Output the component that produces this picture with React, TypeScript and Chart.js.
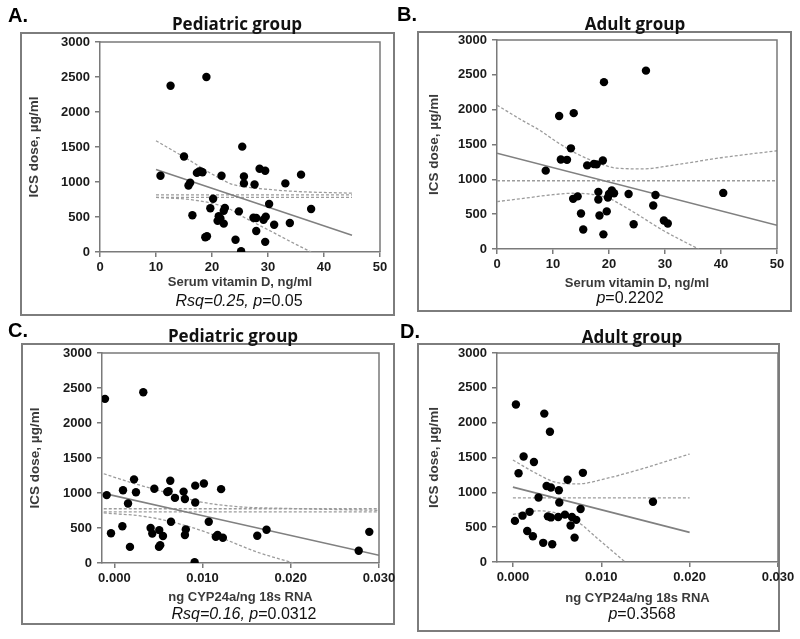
import React, { useEffect, useRef } from "react";
import { Chart, registerables } from "chart.js";
Chart.register(...registerables);

// ---------- shared ticks ----------
const DOSE_TICKS = [0, 500, 1000, 1500, 2000, 2500, 3000];
const VITD_TICKS = [0, 10, 20, 30, 40, 50];
const CYP_TICKS = [0, 0.01, 0.02, 0.03];

// ---------- Panel A: pediatric, vitamin D ----------
const A_X = [10.8, 12.6, 19.0, 15.0, 15.8, 16.1, 16.5, 17.3, 17.7, 18.0, 18.3, 21.7, 20.2, 19.7, 18.8, 19.1, 21.2, 21.5, 21.0, 22.1, 22.3, 22.1, 24.2, 24.8, 25.4, 25.7, 25.7, 25.2, 27.6, 27.4, 27.9, 27.9, 28.5, 29.5, 29.2, 29.6, 29.5, 30.2, 31.1, 33.1, 33.9, 35.9, 37.7];
const A_Y = [1090, 2375, 2500, 1365, 950, 990, 525, 1130, 1150, 1150, 1140, 1090, 760, 625, 210, 225, 510, 480, 445, 590, 630, 405, 175, 580, 1505, 1080, 980, 10, 965, 490, 485, 300, 1190, 1160, 460, 505, 145, 685, 390, 980, 415, 1105, 615];
const A_FIT_X = [10, 45];
const A_FIT_Y = [1180, 240];
const A_MEAN_X = [10, 45];
const A_MEAN_HI = [815, 815];
const A_MEAN_LO = [780, 780];
const A_CIU_X = [10, 13, 16, 19, 21, 23.5, 26, 30, 35, 45];
const A_CIU_Y = [1590, 1450, 1310, 1160, 1070, 970, 930, 895, 865, 840];
const A_CIL_X = [10, 16, 20, 23, 25.5, 28, 30.2, 34, 37.7];
const A_CIL_Y = [780, 750, 695, 620, 505, 400, 310, 150, 0];

// ---------- Panel B: adult, vitamin D ----------
const B_X = [8.7, 11.1, 11.4, 12.5, 13.7, 13.2, 13.6, 14.4, 15.0, 15.4, 16.1, 17.3, 17.8, 18.9, 19.1, 18.1, 18.1, 18.3, 19.0, 19.6, 19.8, 20.0, 20.5, 20.9, 23.5, 24.4, 26.6, 27.9, 28.3, 29.8, 30.5, 40.4];
const B_Y = [1125, 1910, 1285, 1280, 1950, 1445, 720, 755, 510, 280, 1200, 1220, 1215, 1270, 2395, 820, 710, 480, 210, 540, 740, 790, 840, 800, 790, 355, 2560, 625, 775, 410, 365, 805];
const B_FIT_X = [0, 50];
const B_FIT_Y = [1375, 340];
const B_MEAN_X = [0, 50];
const B_MEAN_Y = [980, 980];
const B_CIU_X = [0, 4, 7.7, 11, 14.2, 18.4, 21.4, 26, 32, 40, 50];
const B_CIU_Y = [2065, 1870, 1700, 1520, 1370, 1225, 1160, 1150, 1210, 1310, 1410];
const B_CIL_X = [0, 5, 10, 13.3, 17.2, 20.2, 22.5, 24.9, 29.7, 36];
const B_CIL_Y = [680, 730, 780, 800, 782, 720, 620, 505, 265, 0];

// ---------- Panel C: pediatric, CYP24a ----------
const C_X = [-0.00106, 0.00328, -0.00087, -0.00038, 0.00091, 0.00098, 0.00155, 0.00177, 0.00223, 0.00245, 0.00411, 0.0043, 0.00453, 0.00509, 0.00551, 0.00506, 0.0052, 0.006, 0.00615, 0.00634, 0.00642, 0.00687, 0.00785, 0.008, 0.008, 0.0081, 0.00917, 0.00917, 0.0091, 0.01015, 0.0107, 0.0115, 0.0117, 0.0121, 0.0123, 0.0162, 0.01725, 0.0277, 0.0289];
const C_Y = [2345, 2440, 970, 425, 525, 1040, 850, 230, 1195, 1010, 500, 420, 1060, 470, 385, 230, 255, 1015, 1025, 1175, 590, 930, 1020, 915, 400, 480, 1105, 865, 10, 1135, 590, 375, 400, 1055, 360, 390, 475, 175, 445];
const C_FIT_X = [-0.0012, 0.03];
const C_FIT_Y = [995, 110];
const C_MEAN_X = [-0.0012, 0.03];
const C_MEAN_HI = [775, 775];
const C_MEAN_LO = [730, 730];
const C_CIU_X = [-0.0012, 0.0022, 0.0067, 0.0097, 0.0142, 0.0199, 0.03];
const C_CIU_Y = [1275, 1137, 979, 874, 803, 779, 752];
const C_CIL_X = [-0.0012, 0.0037, 0.0086, 0.0123, 0.0161, 0.0203];
const C_CIL_Y = [715, 660, 515, 350, 160, 0];

// ---------- Panel D: adult, CYP24a ----------
const D_X = [0.00034, 0.00355, 0.00419, 0.00121, 0.00238, 0.00064, 0.00381, 0.0043, 0.0052, 0.00619, 0.00792, 0.0029, 0.00525, 0.00766, 0.00023, 0.00109, 0.00189, 0.00162, 0.00226, 0.00396, 0.0043, 0.00513, 0.00589, 0.00668, 0.00717, 0.00653, 0.00698, 0.00343, 0.00445, 0.01585];
const D_Y = [2260, 2130, 1870, 1515, 1435, 1275, 1090, 1070, 1030, 1180, 1280, 925, 855, 760, 590, 665, 720, 445, 370, 655, 640, 645, 680, 645, 605, 525, 350, 275, 255, 865];
const D_FIT_X = [0, 0.02];
const D_FIT_Y = [1075, 425];
const D_MEAN_X = [0, 0.02];
const D_MEAN_Y = [920, 920];
const D_CIU_X = [0, 0.0023, 0.005, 0.0073, 0.0106, 0.0144, 0.02];
const D_CIU_Y = [1465, 1295, 1140, 1120, 1200, 1330, 1550];
const D_CIL_X = [0, 0.0031, 0.005, 0.0073, 0.0095, 0.0127];
const D_CIL_Y = [685, 735, 700, 580, 345, 0];

// ---------- helpers ----------
const FONT = "'Liberation Sans', Arial, Helvetica, sans-serif";
const pts = (xs: number[], ys: number[]) => xs.map((x, i) => ({ x, y: ys[i] }));

const scatterSet = (xs: number[], ys: number[]) => ({
  data: pts(xs, ys),
  showLine: false,
  pointRadius: 4.2,
  pointHoverRadius: 4.2,
  backgroundColor: "#000",
  borderColor: "#000",
  borderWidth: 0,
});
const lineSet = (xs: number[], ys: number[], dashed: boolean, color: string, width: number) => ({
  data: pts(xs, ys),
  showLine: true,
  pointRadius: 0,
  borderColor: color,
  borderWidth: width,
  borderDash: dashed ? [3, 2] : [],
  fill: false,
  cubicInterpolationMode: "monotone",
});

const framePlugin = {
  id: "frame",
  afterDraw(chart: any) {
    const { ctx, chartArea: a } = chart;
    ctx.save();
    ctx.strokeStyle = "#7a7a7a";
    ctx.lineWidth = 1.5;
    ctx.beginPath();
    ctx.moveTo(a.left, a.top);
    ctx.lineTo(a.right, a.top);
    ctx.lineTo(a.right, a.bottom);
    ctx.stroke();
    ctx.restore();
  },
};

type PanelCfg = {
  left: number;
  top: number;
  width: number;
  height: number;
  area: { left: number; top: number; right: number; bottom: number };
  xMin: number;
  xMax: number;
  xTicks: number[];
  xFmt: (v: number) => string;
  xTitle: string;
  yTitleX: number;
  xTitleY: number;
  datasets: any[];
};

const fmtInt = (v: number) => String(Math.round(v));
const fmt3 = (v: number) => (Math.abs(v) < 1e-12 ? "0.000" : v.toFixed(3));

function Panel({ cfg }: { cfg: PanelCfg }) {
  const ref = useRef<HTMLCanvasElement>(null);
  useEffect(() => {
    if (!ref.current) return;
    const yTitleSize = 13.5;
    const xTitleSize = 13;
    const axisColor = "#7a7a7a";
    const chart = new Chart(ref.current, {
      type: "scatter",
      data: { datasets: cfg.datasets },
      plugins: [framePlugin],
      options: {
        responsive: false,
        animation: false,
        events: [],
        layout: {
          padding: {
            left: 0,
            top: cfg.area.top,
            right: cfg.width - cfg.area.right,
            bottom: 0,
          },
        },
        plugins: { legend: { display: false }, tooltip: { enabled: false }, title: { display: false } },
        scales: {
          x: {
            type: "linear",
            position: "bottom",
            min: cfg.xMin,
            max: cfg.xMax,
            afterFit: (s: any) => {
              s.height = cfg.height - cfg.area.bottom;
            },
            afterBuildTicks: (s: any) => {
              s.ticks = cfg.xTicks.map((v) => ({ value: v }));
            },
            ticks: {
              callback: (v: any) => cfg.xFmt(Number(v)),
              font: { family: FONT, size: 13, weight: "bold" },
              color: "#1a1a1a",
              padding: 3,
              maxRotation: 0,
              autoSkip: false,
            },
            grid: { display: true, drawOnChartArea: false, drawTicks: true, tickLength: 5, color: axisColor, lineWidth: 1.5 },
            border: { display: true, color: axisColor, width: 1.5 },
            title: {
              display: true,
              text: cfg.xTitle,
              font: { family: FONT, size: xTitleSize, weight: "bold" },
              color: "#3a3a3a",
              padding: { top: 0, bottom: cfg.height - cfg.xTitleY - (xTitleSize * 1.2) / 2 },
            },
          },
          y: {
            type: "linear",
            position: "left",
            min: 0,
            max: 3000,
            afterFit: (s: any) => {
              s.width = cfg.area.left;
            },
            afterBuildTicks: (s: any) => {
              s.ticks = DOSE_TICKS.map((v) => ({ value: v }));
            },
            ticks: {
              callback: (v: any) => fmtInt(Number(v)),
              font: { family: FONT, size: 13, weight: "bold" },
              color: "#1a1a1a",
              padding: 5,
              autoSkip: false,
            },
            grid: { display: true, drawOnChartArea: false, drawTicks: true, tickLength: 5, color: axisColor, lineWidth: 1.5 },
            border: { display: true, color: axisColor, width: 1.5 },
            title: {
              display: true,
              text: "ICS dose, µg/ml",
              font: { family: FONT, size: yTitleSize, weight: "bold" },
              color: "#3a3a3a",
              padding: { top: cfg.yTitleX - (yTitleSize * 1.2) / 2, bottom: 0 },
            },
          },
        },
      } as any,
    });
    return () => chart.destroy();
  }, [cfg]);
  return (
    <canvas
      ref={ref}
      width={cfg.width}
      height={cfg.height}
      style={{ position: "absolute", left: cfg.left, top: cfg.top, width: cfg.width, height: cfg.height }}
    />
  );
}

const REG = "#808080";
const CI = "#9c9c9c";

const PANELS: PanelCfg[] = [
  {
    left: 0, top: 0, width: 400, height: 320,
    area: { left: 100, top: 42, right: 380, bottom: 252 },
    xMin: 0, xMax: 50, xTicks: VITD_TICKS, xFmt: fmtInt,
    xTitle: "Serum vitamin D, ng/ml", yTitleX: 34, xTitleY: 282,
    datasets: [
      scatterSet(A_X, A_Y),
      lineSet(A_FIT_X, A_FIT_Y, false, REG, 1.6),
      lineSet(A_MEAN_X, A_MEAN_HI, true, CI, 1.3),
      lineSet(A_MEAN_X, A_MEAN_LO, true, CI, 1.3),
      lineSet(A_CIU_X, A_CIU_Y, true, CI, 1.3),
      lineSet(A_CIL_X, A_CIL_Y, true, CI, 1.3),
    ],
  },
  {
    left: 400, top: 0, width: 400, height: 320,
    area: { left: 97, top: 40, right: 377, bottom: 249 },
    xMin: 0, xMax: 50, xTicks: VITD_TICKS, xFmt: fmtInt,
    xTitle: "Serum vitamin D, ng/ml", yTitleX: 34, xTitleY: 283,
    datasets: [
      scatterSet(B_X, B_Y),
      lineSet(B_FIT_X, B_FIT_Y, false, REG, 1.6),
      lineSet(B_MEAN_X, B_MEAN_Y, true, CI, 1.3),
      lineSet(B_CIU_X, B_CIU_Y, true, CI, 1.3),
      lineSet(B_CIL_X, B_CIL_Y, true, CI, 1.3),
    ],
  },
  {
    left: 0, top: 320, width: 400, height: 319,
    area: { left: 102, top: 33, right: 379, bottom: 243 },
    xMin: -0.0014, xMax: 0.03, xTicks: CYP_TICKS, xFmt: fmt3,
    xTitle: "ng CYP24a/ng 18s RNA", yTitleX: 35, xTitleY: 277,
    datasets: [
      scatterSet(C_X, C_Y),
      lineSet(C_FIT_X, C_FIT_Y, false, REG, 1.6),
      lineSet(C_MEAN_X, C_MEAN_HI, true, CI, 1.3),
      lineSet(C_MEAN_X, C_MEAN_LO, true, CI, 1.3),
      lineSet(C_CIU_X, C_CIU_Y, true, CI, 1.3),
      lineSet(C_CIL_X, C_CIL_Y, true, CI, 1.3),
    ],
  },
  {
    left: 400, top: 320, width: 400, height: 319,
    area: { left: 97, top: 33, right: 378, bottom: 242 },
    xMin: -0.0018, xMax: 0.03, xTicks: CYP_TICKS, xFmt: fmt3,
    xTitle: "ng CYP24a/ng 18s RNA", yTitleX: 34, xTitleY: 278,
    datasets: [
      scatterSet(D_X, D_Y),
      lineSet(D_FIT_X, D_FIT_Y, false, REG, 1.6),
      lineSet(D_MEAN_X, D_MEAN_Y, true, CI, 1.3),
      lineSet(D_CIU_X, D_CIU_Y, true, CI, 1.3),
      lineSet(D_CIL_X, D_CIL_Y, true, CI, 1.3),
    ],
  },
];

const BOXES = [
  { left: 20, top: 32, right: 395, bottom: 316 },
  { left: 417, top: 31, right: 792, bottom: 312 },
  { left: 21, top: 343, right: 395, bottom: 625 },
  { left: 417, top: 343, right: 780, bottom: 632 },
];

function Label({ x, y, style, children }: { x: number; y: number; style?: any; children: any }) {
  return (
    <div
      style={{
        position: "absolute",
        left: x,
        top: y,
        transform: "translate(-50%, -50%)",
        whiteSpace: "nowrap",
        lineHeight: 1,
        ...style,
      }}
    >
      {children}
    </div>
  );
}

const letterStyle = { fontFamily: FONT, fontWeight: "bold", fontSize: 20, color: "#000" };
const titleStyle = { fontFamily: "'Open Sans', sans-serif", fontWeight: "bold", fontSize: 17, color: "#111" };
const statStyle = { fontFamily: FONT, fontSize: 16, color: "#111" };

export default function App() {
  return (
    <div style={{ position: "absolute", left: 0, top: 0, width: 800, height: 639, background: "#fff", overflow: "hidden" }}>
      {BOXES.map((b, i) => (
        <div
          key={i}
          style={{
            position: "absolute",
            left: b.left,
            top: b.top,
            width: b.right - b.left,
            height: b.bottom - b.top,
            border: "2px solid #7d7d7d",
            boxSizing: "border-box",
          }}
        />
      ))}
      {PANELS.map((p, i) => (
        <Panel key={i} cfg={p} />
      ))}
      <Label x={18} y={15} style={letterStyle}>A.</Label>
      <Label x={407} y={14} style={letterStyle}>B.</Label>
      <Label x={18} y={330} style={letterStyle}>C.</Label>
      <Label x={410} y={331} style={letterStyle}>D.</Label>

      <Label x={237} y={23} style={titleStyle}>Pediatric group</Label>
      <Label x={635} y={23} style={titleStyle}>Adult group</Label>
      <Label x={233} y={335} style={titleStyle}>Pediatric group</Label>
      <Label x={632} y={336} style={titleStyle}>Adult group</Label>

      <Label x={239} y={301} style={statStyle}>
        <i>Rsq=0.25, p</i>=0.05
      </Label>
      <Label x={630} y={298} style={statStyle}>
        <i>p</i>=0.2202
      </Label>
      <Label x={244} y={614} style={statStyle}>
        <i>Rsq=0.16, p</i>=0.0312
      </Label>
      <Label x={642} y={614} style={statStyle}>
        <i>p</i>=0.3568
      </Label>
    </div>
  );
}
